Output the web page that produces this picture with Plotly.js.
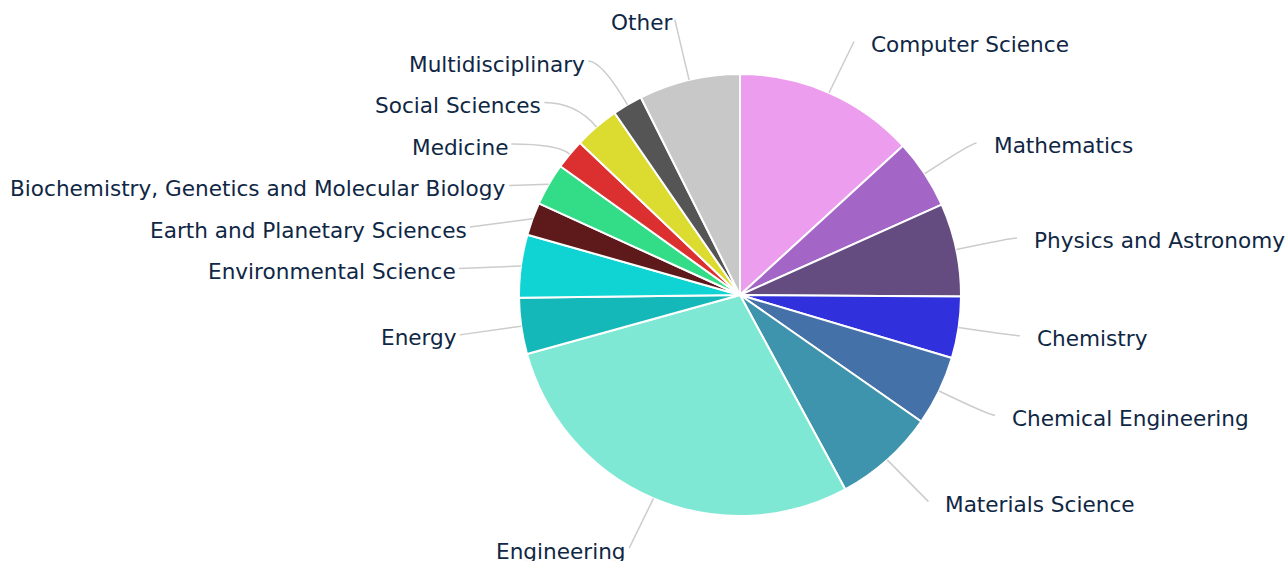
<!DOCTYPE html>
<html>
<head>
<meta charset="utf-8">
<script src="https://cdn.plot.ly/plotly-3.0.1.min.js"></script>
<style>
html,body{margin:0;padding:0;background:#ffffff;}
#chart{width:1286px;height:561px;}
</style>
</head>
<body>
<div id="chart"></div>
<script>
// ---- data ----
const categories = [
  "Computer Science",
  "Mathematics",
  "Physics and Astronomy",
  "Chemistry",
  "Chemical Engineering",
  "Materials Science",
  "Engineering",
  "Energy",
  "Environmental Science",
  "Earth and Planetary Sciences",
  "Biochemistry, Genetics and Molecular Biology",
  "Medicine",
  "Social Sciences",
  "Multidisciplinary",
  "Other"
];
const shares = [13.2, 5.1, 6.8, 4.5, 5.1, 7.4, 28.6, 4.1, 4.6, 2.4, 3.1, 2.2, 3.3, 2.2, 7.4];
const sliceColors = [
  "#ED9DED", "#A466C6", "#644C80", "#3030DC", "#4472A8",
  "#3E94AC", "#7EE8D4", "#15B8B8", "#10D4D4", "#5E1A1A",
  "#33DD88", "#DC3030", "#DCDC30", "#555555", "#C8C8C8"
];

// ---- geometry / style ----
const W = 1286, H = 561;
const CX = 740, CY = 295, R = 221;
const LABEL_RX = R + 62;
const LABEL_RY = { "1": R + 56, "-1": R + 62 };
const MIN_GAP = 41.5;
const FONT_FAMILY = "DejaVu Sans, Liberation Sans, sans-serif";
const FONT_SIZE = 21.6;
const TEXT_COLOR = "#0f2744";
const LINE_COLOR = "#cccccc";

function px2paper(x, y) { return [x / W, 1 - y / H]; }

const ctx = document.createElement("canvas").getContext("2d");
ctx.font = FONT_SIZE + "px 'DejaVu Sans'";

const total = shares.reduce((a, b) => a + b, 0);
let cum = 0;
const items = shares.map((v, i) => {
  const a0 = cum / total * 2 * Math.PI;
  cum += v;
  const a1 = cum / total * 2 * Math.PI;
  const mid = (a0 + a1) / 2;
  const ux = Math.sin(mid), uy = -Math.cos(mid);
  const side = ux >= 0 ? 1 : -1;
  return {
    i, ux, uy, side,
    x0: CX + R * ux, y0: CY + R * uy,
    x: CX + LABEL_RX * ux, y: CY + LABEL_RY[side] * uy
  };
});

// push labels apart on each side
[1, -1].forEach(side => {
  const ry = LABEL_RY[side];
  const list = items.filter(d => d.side === side).sort((a, b) => a.y - b.y);
  for (let k = 1; k < list.length; k++) {
    const prev = list[k - 1], cur = list[k];
    if (cur.y < prev.y + MIN_GAP) {
      cur.y = prev.y + MIN_GAP;
      const dy = cur.y - CY;
      const xe = CX + side * LABEL_RX * Math.sqrt(Math.max(0, 1 - dy * dy / (ry * ry)));
      cur.x = (cur.x + xe) / 2;
    }
  }
  list.forEach(d => {
    if (d.y > H - 13) d.y = H - 13;
    if (d.y < 13) d.y = 13;
  });
});

// keep text inside canvas
items.forEach(d => {
  const w = ctx.measureText(categories[d.i]).width;
  if (d.side < 0) {
    const start = d.x - 2 - w;
    if (start < 12) d.x += 12 - start;
  } else {
    const end = d.x + 15 + w;
    if (end > W - 2) d.x -= end - (W - 2);
  }
});

const shapes = [];
const annotations = [];
items.forEach(d => {
  let cx = (d.x0 + d.x) / 2, cy = (d.y0 + d.y) / 2;
  if (Math.abs(d.uy) > 1e-3) {
    const t = (d.y - d.y0) / d.uy;
    const kx = d.x0 + d.ux * t;
    if (t > 0 && (d.x - kx) * d.side >= 4) { cx = kx; cy = d.y; }
  }
  const p0 = px2paper(d.x0, d.y0), pc = px2paper(cx, cy), p2 = px2paper(d.x, d.y);
  shapes.push({
    type: "path", xref: "paper", yref: "paper",
    path: `M ${p0[0]},${p0[1]} Q ${pc[0]},${pc[1]} ${p2[0]},${p2[1]}`,
    line: { color: LINE_COLOR, width: 1.5 }
  });
  const tp = px2paper(d.side > 0 ? d.x + 15 : d.x - 1, d.y + 3);
  annotations.push({
    xref: "paper", yref: "paper", x: tp[0], y: tp[1],
    xanchor: d.side > 0 ? "left" : "right", yanchor: "middle",
    text: categories[d.i], showarrow: false,
    font: { family: FONT_FAMILY, size: FONT_SIZE, color: TEXT_COLOR }
  });
});

const trace = {
  type: "pie",
  labels: categories,
  values: shares,
  sort: false,
  direction: "clockwise",
  rotation: 0,
  textinfo: "none",
  hoverinfo: "label+percent",
  marker: { colors: sliceColors, line: { color: "#ffffff", width: 2 } },
  domain: {
    x: [(CX - R) / W, (CX + R) / W],
    y: [1 - (CY + R) / H, 1 - (CY - R) / H]
  },
  showlegend: false
};

const layout = {
  width: W, height: H,
  margin: { l: 0, r: 0, t: 0, b: 0, pad: 0 },
  paper_bgcolor: "#ffffff",
  showlegend: false,
  font: { family: FONT_FAMILY, color: TEXT_COLOR },
  shapes: shapes,
  annotations: annotations
};

Plotly.newPlot("chart", [trace], layout, { displayModeBar: false, responsive: false });
</script>
</body>
</html>
